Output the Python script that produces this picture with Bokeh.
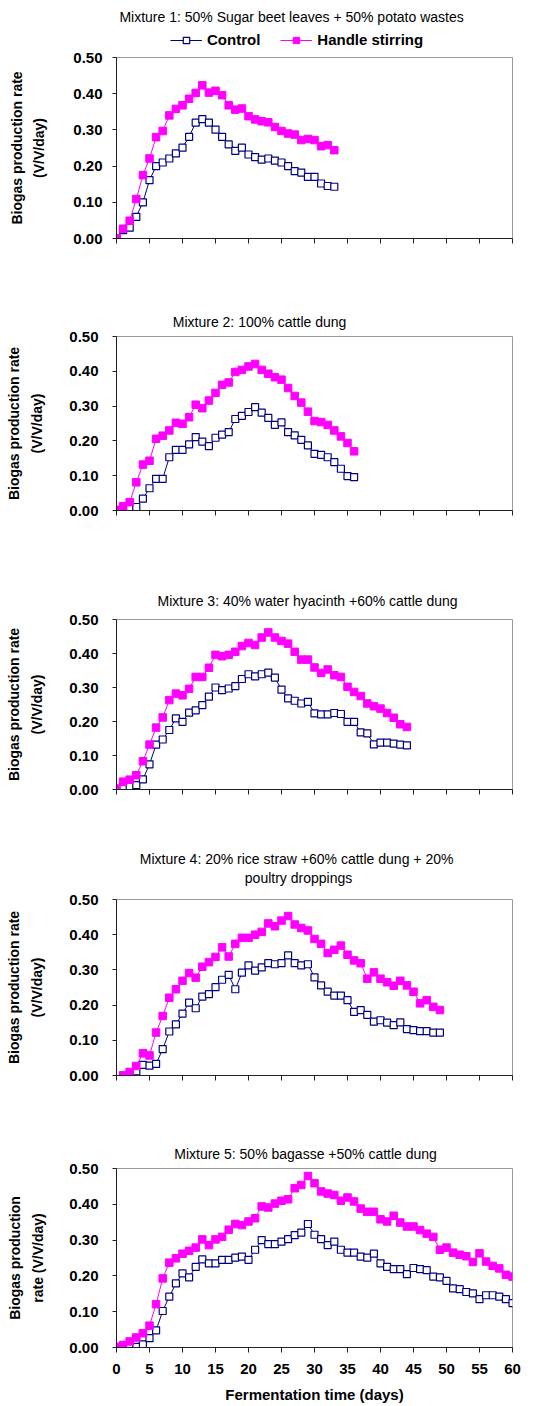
from bokeh.plotting import figure
from bokeh.layouts import column
from bokeh.models import (Title, Legend, LegendItem, FixedTicker, PrintfTickFormatter,
                          CustomJSTickFormatter, Range1d)
from bokeh.embed import file_html
from bokeh.resources import INLINE

FONT = "Liberation Sans"
NAVY = "#000080"
MAGENTA = "#FF00FF"
NAN = float("nan")

# ---------------- data ----------------
days1 = list(range(0, 34))
control1 = [0.000, 0.023, 0.030, 0.060, 0.100, 0.161, 0.200, 0.210, 0.221, 0.235, 0.251, 0.281,
            0.320, 0.330, 0.320, 0.301, 0.281, 0.260, 0.242, 0.251, 0.232, 0.225, 0.218, 0.221,
            0.215, 0.210, 0.200, 0.186, 0.182, 0.170, 0.170, 0.152, 0.145, 0.143]
stirring1 = [0.000, 0.027, 0.049, 0.109, 0.175, 0.221, 0.280, 0.297, 0.340, 0.358, 0.368, 0.386,
             0.402, 0.423, 0.403, 0.408, 0.396, 0.368, 0.356, 0.359, 0.338, 0.329, 0.324, 0.321,
             0.308, 0.297, 0.290, 0.287, 0.272, 0.275, 0.272, 0.255, 0.258, 0.244]

days2 = list(range(0, 37))
control2 = [0.000, 0.000, 0.008, 0.010, 0.034, 0.064, 0.091, 0.091, 0.153, 0.174, 0.174, 0.190,
            0.211, 0.198, 0.185, 0.209, 0.218, 0.225, 0.263, 0.272, 0.283, 0.297, 0.281, 0.266,
            0.246, 0.253, 0.225, 0.216, 0.203, 0.187, 0.163, 0.160, 0.153, 0.139, 0.120, 0.099, 0.096]
stirring2 = [0.002, 0.012, 0.024, 0.081, 0.132, 0.143, 0.206, 0.215, 0.230, 0.252, 0.249, 0.268,
             0.304, 0.294, 0.316, 0.338, 0.361, 0.368, 0.398, 0.404, 0.414, 0.421, 0.404, 0.393,
             0.383, 0.376, 0.352, 0.329, 0.310, 0.284, 0.257, 0.254, 0.246, 0.230, 0.213, 0.194, 0.170]

days3 = list(range(0, 45))
control3 = [0.000, 0.008, 0.010, 0.013, 0.030, 0.074, 0.132, 0.147, 0.175, 0.209, 0.199, 0.226,
            0.233, 0.248, 0.273, 0.300, 0.292, 0.297, 0.304, 0.325, 0.339, 0.333, 0.339, 0.344,
            0.329, 0.294, 0.268, 0.261, 0.253, 0.258, 0.224, 0.221, 0.221, 0.225, 0.222, 0.199,
            0.199, 0.168, 0.165, 0.133, 0.138, 0.138, 0.135, 0.132, 0.130]
stirring3 = [0.003, 0.023, 0.029, 0.042, 0.083, 0.132, 0.182, 0.212, 0.263, 0.282, 0.277, 0.296,
             0.331, 0.331, 0.358, 0.396, 0.392, 0.396, 0.405, 0.422, 0.431, 0.425, 0.447, 0.462,
             0.447, 0.437, 0.429, 0.405, 0.382, 0.382, 0.359, 0.343, 0.353, 0.336, 0.331, 0.302,
             0.287, 0.275, 0.253, 0.245, 0.238, 0.225, 0.211, 0.192, 0.184]

days4 = list(range(1, 50))
control4 = [0.000, 0.002, 0.012, 0.030, 0.028, 0.033, 0.075, 0.125, 0.145, 0.176, 0.207, 0.191,
            0.224, 0.231, 0.251, 0.272, 0.286, 0.245, 0.292, 0.313, 0.298, 0.307, 0.319, 0.316,
            0.319, 0.341, 0.319, 0.313, 0.316, 0.279, 0.256, 0.238, 0.227, 0.227, 0.214, 0.181,
            0.186, 0.172, 0.153, 0.157, 0.150, 0.143, 0.151, 0.132, 0.129, 0.126, 0.126, 0.122, 0.122]
stirring4 = [0.000, 0.010, 0.027, 0.063, 0.057, 0.122, 0.169, 0.221, 0.245, 0.269, 0.291, 0.278,
             0.309, 0.322, 0.337, 0.364, 0.338, 0.374, 0.391, 0.391, 0.400, 0.408, 0.432, 0.424,
             0.440, 0.453, 0.429, 0.419, 0.412, 0.388, 0.374, 0.348, 0.357, 0.369, 0.343, 0.327,
             0.319, 0.275, 0.293, 0.275, 0.265, 0.255, 0.269, 0.256, 0.238, 0.205, 0.214, 0.195, 0.186]

days5 = list(range(0, 61))
control5 = [0.000, 0.000, 0.000, 0.002, 0.009, 0.026, 0.048, 0.102, 0.142, 0.179, 0.207, 0.196,
            0.225, 0.246, 0.235, 0.235, 0.245, 0.245, 0.251, 0.254, 0.245, 0.273, 0.300, 0.289,
            0.289, 0.296, 0.303, 0.314, 0.321, 0.345, 0.315, 0.303, 0.286, 0.296, 0.273, 0.265,
            0.265, 0.254, 0.251, 0.262, 0.235, 0.225, 0.219, 0.219, 0.205, 0.222, 0.219, 0.216,
            0.198, 0.196, 0.186, 0.165, 0.163, 0.155, 0.151, 0.135, 0.146, 0.146, 0.142, 0.135, 0.124]
stirring5 = [0.002, 0.007, 0.017, 0.028, 0.040, 0.061, 0.121, 0.193, 0.237, 0.249, 0.262, 0.270,
             0.279, 0.302, 0.286, 0.302, 0.309, 0.329, 0.345, 0.342, 0.352, 0.361, 0.394, 0.391,
             0.402, 0.410, 0.414, 0.445, 0.454, 0.479, 0.459, 0.436, 0.430, 0.426, 0.410, 0.419,
             0.408, 0.388, 0.379, 0.379, 0.358, 0.352, 0.368, 0.349, 0.338, 0.338, 0.328, 0.318,
             0.309, 0.273, 0.279, 0.265, 0.259, 0.255, 0.239, 0.263, 0.240, 0.228, 0.221, 0.203, 0.198]

series_names = ["Control", "Handle stirring"]
y_ticks = [0.0, 0.1, 0.2, 0.3, 0.4, 0.5]
x_ticks = [0, 5, 10, 15, 20, 25, 30, 35, 40, 45, 50, 55, 60]
x_title = "Fermentation time (days)"

titles = [
    ["Mixture 1:  50% Sugar beet leaves + 50% potato wastes"],
    ["Mixture 2:  100% cattle dung"],
    ["Mixture 3:  40% water hyacinth +60% cattle dung"],
    ["Mixture 4:  20% rice straw +60% cattle dung +  20%", "poultry droppings"],
    ["Mixture 5:  50% bagasse +50% cattle dung"],
]
y_titles = [
    ["Biogas production rate", "(V/V/day)"],
    ["Biogas production rate", "(V/V/day)"],
    ["Biogas production rate", "(V/V/day)"],
    ["Biogas production rate", "(V/V/day)"],
    ["Biogas production", "rate (V/V/day)"],
]

data = [(days1, control1, stirring1), (days2, control2, stirring2), (days3, control3, stirring3),
        (days4, control4, stirring4), (days5, control5, stirring5)]

# ---------------- layout geometry (page pixels) ----------------
# fig_top, fig_h, frame_top, frame_bottom, frame_left   (panel 1 has a header strip above it)
HEADER_H = 48
geo = [
    (HEADER_H, 280 - HEADER_H, 57, 238, 111),
    (280, 280, 336, 510, 115),
    (560, 280, 619, 789, 115),
    (840, 280, 899, 1075, 115),
    (1120, 286, 1168, 1347, 115),
]
# desired horizontal centres of title lines (page px) and their (vertical_align, standoff)
title_cx = [[288], [260], [308], [299, 297], [306]]
title_va = [[("middle", 10)], [("middle", 12)], [("middle", 20)],
            [("bottom", -18), ("top", 24)], [("middle", 12)]]
ytick_standoff = [10, 14, 14, 14, 14]
ylab_standoff = [23, 21, 21, 21, 20]
ytitle_standoff = [6, 8, 8, 8, 8]

# approximate Arial advance widths (per 1000 em)
AW = {' ': 278, '%': 889, '+': 584, ':': 278, 'M': 833, 'S': 667, 'a': 556, 'b': 556, 'c': 500,
      'd': 556, 'e': 556, 'f': 278, 'g': 556, 'h': 556, 'i': 222, 'k': 500, 'l': 222, 'm': 833,
      'n': 556, 'o': 556, 'p': 556, 'r': 333, 's': 500, 't': 278, 'u': 556, 'v': 500, 'w': 722,
      'x': 500, 'y': 500}


def text_w(t, size):
    return sum(AW.get(ch, 556) for ch in t) * size / 1000.0


def add_titles(p, i, frl):
    lines = list(zip(titles[i], title_cx[i], title_va[i]))
    for t, cx, (va, so) in reversed(lines):   # nearest to the frame first
        off = cx - text_w(t, 14) / 2.0 - frl
        p.add_layout(Title(text=t, align="left", offset=off, vertical_align=va, standoff=so,
                           text_font=FONT, text_font_style="normal", text_font_size="14px",
                           text_color="black"), "above")


# ---------------- header strip for panel 1: title + legend ----------------
head = figure(width=533, height=HEADER_H, x_range=Range1d(0, 60), y_range=Range1d(0, 0.5),
              output_backend="svg", toolbar_location=None, x_axis_type=None, y_axis_type=None,
              min_border_left=111, min_border_right=21, min_border_top=30, min_border_bottom=0)
head.grid.visible = False
head.outline_line_color = None
head.border_fill_color = "white"
# legend keys only (a single undefined point, nothing is drawn in the strip)
hl_c = head.line([NAN], [NAN], line_color=NAVY, line_width=1)
hs_c = head.scatter([NAN], [NAN], marker="square", size=7, fill_color="white", line_color=NAVY,
                    line_width=1.2)
hl_s = head.line([NAN], [NAN], line_color=MAGENTA, line_width=1)
hs_s = head.scatter([NAN], [NAN], marker="square", size=7.5, fill_color=MAGENTA, line_color=MAGENTA)
legend = Legend(items=[LegendItem(label=series_names[0], renderers=[hl_c, hs_c]),
                       LegendItem(label=series_names[1], renderers=[hl_s, hs_s])],
                location=(54, 0), orientation="horizontal",
                glyph_width=32, glyph_height=16, label_height=16,
                label_standoff=5, spacing=20, padding=0, margin=0,
                label_text_font=FONT, label_text_font_style="bold",
                label_text_font_size="15px", label_text_color="black",
                border_line_color=None, background_fill_alpha=0)
head.add_layout(legend)
add_titles(head, 0, 111)

figs = [head]
for i in range(5):
    ftop, fh, frt, frb, frl = geo[i]
    p = figure(width=533, height=fh, x_range=Range1d(0, 60), y_range=Range1d(0, 0.5),
               output_backend="svg", toolbar_location=None,
               min_border_left=frl, min_border_right=21,
               min_border_top=frt - ftop, min_border_bottom=ftop + fh - frb)
    p.grid.visible = False
    p.outline_line_color = "#9a9a9a"
    p.background_fill_color = "white"
    p.border_fill_color = "white"

    for ax in (p.xaxis, p.yaxis):
        ax.axis_line_color = "#202020"
        ax.major_tick_line_color = "#202020"
        ax.minor_tick_line_color = None
        ax.major_tick_in = 0
        ax.major_label_text_font = FONT
        ax.major_label_text_font_style = "bold"
        ax.major_label_text_font_size = "15px"
        ax.major_label_text_color = "black"
        ax.axis_label_text_font = FONT
        ax.axis_label_text_font_style = "bold"
        ax.axis_label_text_color = "black"
    p.xaxis.ticker = FixedTicker(ticks=x_ticks)
    p.xaxis.major_tick_out = 5
    p.yaxis.ticker = FixedTicker(ticks=y_ticks)
    p.yaxis.major_tick_out = 4
    p.yaxis.formatter = PrintfTickFormatter(format="%.2f")
    p.yaxis.major_label_standoff = ytick_standoff[i]
    p.yaxis.axis_label = y_titles[i][1]
    p.yaxis.axis_label_text_font_size = "14px"
    p.yaxis.axis_label_standoff = ylab_standoff[i]
    if i < 4:
        p.xaxis.formatter = CustomJSTickFormatter(code="return ''")
    else:
        p.xaxis.major_label_standoff = 11
        p.xaxis.axis_label = x_title
        p.xaxis.axis_label_text_font_size = "15px"
        p.xaxis.axis_label_standoff = 9

    # outer line of the y-axis title
    p.add_layout(Title(text=y_titles[i][0], align="center", vertical_align="middle",
                       standoff=ytitle_standoff[i], text_font=FONT, text_font_style="bold",
                       text_font_size="14px", text_color="black"), "left")

    d, c, s = data[i]
    p.line(d, c, line_color=NAVY, line_width=1)
    p.scatter(d, c, marker="square", size=7, fill_color="white", line_color=NAVY, line_width=1.2)
    p.line(d, s, line_color=MAGENTA, line_width=1)
    p.scatter(d, s, marker="square", size=7.5, fill_color=MAGENTA, line_color=MAGENTA)

    if i > 0:
        add_titles(p, i, frl)
    figs.append(p)

layout = column(*figs, spacing=0)
open("out.html", "w").write(file_html(layout, INLINE))
